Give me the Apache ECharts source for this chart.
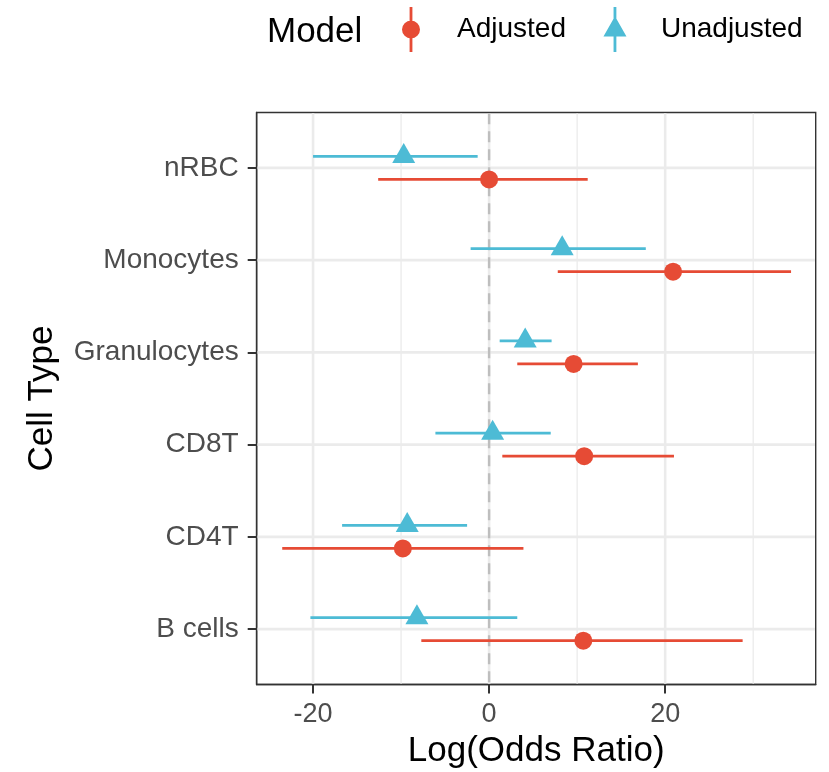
<!DOCTYPE html>
<html>
<head>
<meta charset="utf-8">
<title>Log(Odds Ratio) by Cell Type</title>
<script src="https://cdn.jsdelivr.net/npm/echarts@6/dist/echarts.min.js"></script>
<style>
  html, body { margin: 0; padding: 0; background: #ffffff; }
  #chart { width: 829px; height: 772px; }
</style>
</head>
<body>
<div id="chart"></div>
<script>
// Cell types, listed from the bottom row of the panel to the top row
const cellTypes = ['B cells', 'CD4T', 'CD8T', 'Granulocytes', 'Monocytes', 'nRBC'];

// Adjusted model: point estimate and interval bounds
const adjustedEst  = [10.7, -9.8, 10.8, 9.6, 20.9, 0.0];
const adjustedLow  = [-7.7, -23.5, 1.5, 3.2, 7.8, -12.6];
const adjustedHigh = [28.8, 3.9, 21.0, 16.9, 34.3, 11.2];

// Unadjusted model: point estimate and interval bounds
const unadjustedEst  = [-8.2, -9.3, 0.4, 4.1, 8.3, -9.7];
const unadjustedLow  = [-20.3, -16.7, -6.1, 1.2, -2.1, -20.0];
const unadjustedHigh = [3.2, -2.5, 7.0, 7.1, 17.8, -1.3];

// Axis ticks
const xTicks = [-20, 0, 20];
const xMinorGrid = [-10, 10, 30];
const referenceLine = [0];

const FONT = "'Liberation Sans', Arial, Helvetica, sans-serif";
const RED = '#E64B35';
const CYAN = '#4DBBD5';
const DODGE = 0.125;              // vertical offset of each model within a row
const rowPositions = cellTypes.map((_, i) => i + 1);

// vertical gridlines / reference line spanning the whole panel
function verticalLines(values, style, z) {
  return {
    type: 'custom', silent: true, z: z, clip: false,
    data: values.map(v => [v, 1]),
    encode: { x: 0, y: 1 },
    renderItem: function (params, api) {
      const cs = params.coordSys;
      const x = api.coord([api.value(0), 1])[0];
      return {
        type: 'line',
        shape: { x1: x, y1: cs.y + 0.8, x2: x, y2: cs.y + cs.height - 0.8 },
        style: style
      };
    }
  };
}

// horizontal gridlines at each cell type row
function horizontalLines(values, style, z) {
  return {
    type: 'custom', silent: true, z: z, clip: false,
    data: values.map(v => [0, v]),
    encode: { x: 0, y: 1 },
    renderItem: function (params, api) {
      const cs = params.coordSys;
      const y = api.coord([0, api.value(1)])[1];
      return {
        type: 'line',
        shape: { x1: cs.x + 0.8, y1: y, x2: cs.x + cs.width - 0.8, y2: y },
        style: style
      };
    }
  };
}

// interval bars: one horizontal segment from low to high per row
function intervalSeries(name, low, high, offset, color) {
  return {
    type: 'custom', name: name, silent: true, z: 3,
    data: low.map((lo, i) => [lo, high[i], i + 1 + offset]),
    encode: { x: [0, 1], y: 2 },
    renderItem: function (params, api) {
      const a = api.coord([api.value(0), api.value(2)]);
      const b = api.coord([api.value(1), api.value(2)]);
      return {
        type: 'line',
        shape: { x1: a[0], y1: a[1], x2: b[0], y2: b[1] },
        style: { stroke: color, lineWidth: 2.8, lineCap: 'butt' }
      };
    }
  };
}

// legend keys: marker with a vertical bar through it (24 x 45 box)
const corners = 'M0,0 h0.01 v0.01 h-0.01 z M24,45 h-0.01 v-0.01 h0.01 z ';
const adjustedIcon = 'path://' + corners +
  'M10.6,0 h2.8 v14 h-2.8 z M10.6,31 h2.8 v14 h-2.8 z ' +
  'M3,22.5 a9,9 0 1,1 18,0 a9,9 0 1,1 -18,0 z';
const unadjustedIcon = 'path://' + corners +
  'M10.6,0 h2.8 v12 h-2.8 z M10.6,29 h2.8 v16 h-2.8 z ' +
  'M0.5,29.4 L12,9.2 L23.5,29.4 z';

const axisLineStyle = { show: true, onZero: false, lineStyle: { color: '#333333', width: 1.4 } };

const chart = echarts.init(document.getElementById('chart'), null, { renderer: 'canvas' });

chart.setOption({
  animation: false,
  backgroundColor: '#ffffff',
  textStyle: { fontFamily: FONT },
  title: {
    text: 'Model',
    left: 267, top: 14.5, padding: 0,
    textStyle: { fontFamily: FONT, fontSize: 35, fontWeight: 'normal', color: '#000000' }
  },
  legend: {
    left: 399, top: 7, padding: 0,
    itemWidth: 24, itemHeight: 45, itemGap: 37,
    selectedMode: false,
    textStyle: { fontFamily: FONT, fontSize: 28, color: '#000000', padding: [0, 0, 0, 29] },
    data: [
      { name: 'Adjusted', icon: adjustedIcon },
      { name: 'Unadjusted', icon: unadjustedIcon }
    ]
  },
  grid: {
    left: 256.7, top: 112.5, width: 559, height: 572,
    show: true, borderColor: '#333333', borderWidth: 1.4,
    backgroundColor: 'transparent',
    containLabel: false, outerBoundsMode: 'none'
  },
  xAxis: {
    type: 'value', min: -26.4, max: 37.1, position: 'bottom',
    name: 'Log(Odds Ratio)', nameLocation: 'middle', nameGap: 49, nameMoveOverlap: false,
    nameTextStyle: { fontFamily: FONT, fontSize: 35, color: '#000000' },
    axisLine: axisLineStyle,
    axisTick: { show: true, customValues: xTicks, length: 9, lineStyle: { color: '#333333', width: 2 } },
    axisLabel: { customValues: xTicks, margin: 17, fontFamily: FONT, fontSize: 27, color: '#4D4D4D' },
    splitLine: { show: false }
  },
  yAxis: {
    type: 'value', min: 0.4, max: 6.6, position: 'left',
    name: 'Cell Type', nameLocation: 'middle', nameRotate: 90, nameGap: 197, nameMoveOverlap: false,
    nameTextStyle: { fontFamily: FONT, fontSize: 35, color: '#000000' },
    axisLine: axisLineStyle,
    axisTick: { show: true, customValues: rowPositions, length: 9, lineStyle: { color: '#333333', width: 2 } },
    axisLabel: {
      customValues: rowPositions, margin: 18,
      fontFamily: FONT, fontSize: 28, color: '#4D4D4D', padding: [5, 0, 0, 0],
      formatter: v => cellTypes[Math.round(v) - 1]
    },
    splitLine: { show: false }
  },
  series: [
    verticalLines(xMinorGrid, { stroke: '#EBEBEB', lineWidth: 1.3 }, 1),
    verticalLines(xTicks, { stroke: '#EBEBEB', lineWidth: 2.6 }, 1),
    horizontalLines(rowPositions, { stroke: '#EBEBEB', lineWidth: 2.6 }, 1),
    verticalLines(referenceLine, { stroke: '#BEBEBE', lineWidth: 2.4, lineDash: [11, 7] }, 2),
    intervalSeries('Adjusted interval', adjustedLow, adjustedHigh, -DODGE, RED),
    intervalSeries('Unadjusted interval', unadjustedLow, unadjustedHigh, DODGE, CYAN),
    {
      type: 'scatter', name: 'Adjusted', z: 4, silent: true,
      data: adjustedEst.map((v, i) => [v, i + 1 - DODGE]),
      symbol: 'circle', symbolSize: 18,
      itemStyle: { color: RED, opacity: 1 },
      emphasis: { disabled: true }
    },
    {
      type: 'scatter', name: 'Unadjusted', z: 4, silent: true,
      data: unadjustedEst.map((v, i) => [v, i + 1 + DODGE]),
      symbol: 'triangle', symbolSize: [23, 20], symbolOffset: [0, -3.3],
      itemStyle: { color: CYAN, opacity: 1 },
      emphasis: { disabled: true }
    }
  ]
});
</script>
</body>
</html>
